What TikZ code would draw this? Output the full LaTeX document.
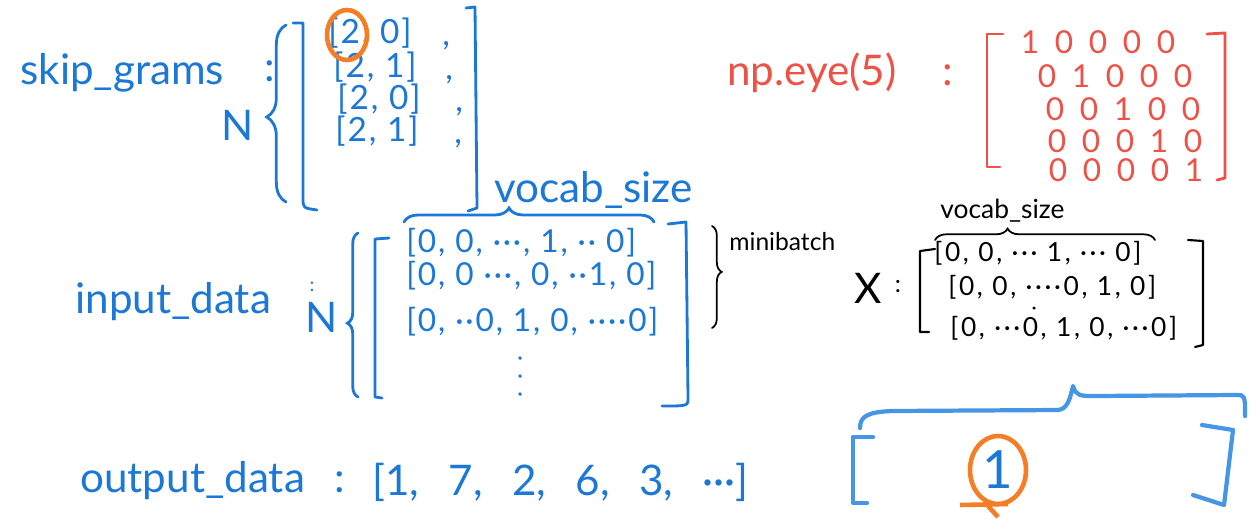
\documentclass[tikz,border=0pt]{standalone}
\usepackage{fontspec}
\setmainfont{Lato}
\usetikzlibrary{decorations.pathreplacing,calc}
\definecolor{kek}{RGB}{28,120,215}
\definecolor{vkek}{RGB}{70,150,230}
\definecolor{piros}{RGB}{238,82,70}
\definecolor{narancs}{RGB}{245,125,35}
\tikzset{
  nagy/.style={inner sep=0pt,font=\fontsize{24}{28}\selectfont},
  kozep/.style={inner sep=0pt,anchor=west,text height=0.72em,text depth=0.1em,
                font=\fontsize{19}{22}\selectfont\addfontfeature{LetterSpace=6}},
  sor/.style={inner sep=0pt,anchor=west,font=\fontsize{18}{20}\selectfont\addfontfeature{LetterSpace=6}},
  xsor/.style={inner sep=0pt,anchor=west,font=\fontsize{15}{18}\selectfont\addfontfeature{LetterSpace=10}},
  kicsi/.style={inner sep=0pt,font=\fontsize{14}{17}\selectfont},
  szam/.style={piros,inner sep=0pt,text height=0.7em,text depth=0pt,font=\fontsize{18}{20}\selectfont},
  zarojel/.style={line width=1.6pt,line cap=round,line join=round},
  kapcsos/.style={decorate,decoration={brace,amplitude=#1},line width=1.6pt,line cap=round},
  kapcsos/.default=7pt,
  karika/.style={narancs,line width=2.6pt},
  pottyo/.style={circle,fill,inner sep=0.8pt},
}

\begin{document}
\begin{tikzpicture}[x=0.02cm,y=-0.02cm]
  \useasboundingbox (0,0) rectangle (1260,531);
  \fill[white] (0,0) rectangle (1260,531);
  % skip_grams
  \node[nagy,kek,anchor=base west] (skip) at (20,84) {skip\_grams};
  \node[nagy,kek] (skipk) at (270,71) {:};
  \node[nagy,kek,anchor=base] (skipn) at (238,140) {N};
  \draw[kapcsos=11pt,kek,decoration={aspect=0.48}] (286,202) -- (286,25);
  \draw[zarojel,kek] (293,23) -- (303,23) -- (303,198) .. controls (303,208) .. (317,210);
  \draw[zarojel,kek] (466,8) -- (475,7) -- (477,208) -- (468,211);
  \node[kozep,kek] (sg1) at (328,38) {[2, 0]};
  \node[kozep,kek] (sg2) at (333,72) {[2, 1]};
  \node[kozep,kek] (sg3) at (337,104) {[2, 0]};
  \node[kozep,kek] (sg4) at (335,136) {[2, 1]};
  \foreach \y/\x in {38/442,72/445,104/455,136/454}
    \node[kozep,kek] (vesszo\y) at (\x,\y+2) {,};
  \draw[karika] (347,35) ellipse [x radius=0.4cm,y radius=0.5cm];
  % np.eye
  \node[nagy,piros,anchor=base west] (eye) at (727,85) {np.eye(5)};
  \node[nagy,piros] (eyek) at (948,75) {:};
  \draw[zarojel,piros] (1003,34) -- (987,34) -- (987,167) -- (1000,167);
  \draw[zarojel,piros] (1207,34) -- (1225,33) -- (1225,178) -- (1217,180);
  \foreach \r/\bx/\yy in {1/1030/47,2/1047/81,3/1055/114,4/1057/146,5/1058/175}
    \foreach \c in {1,...,5}
      \node[szam] (e\r\c) at (\bx+\c*34-34,\yy) {\ifnum\r=\c\relax 1\else 0\fi};
  % input_data
  \node[nagy,kek,anchor=base west] (inp) at (75,313) {input\_data};
  \node[kek,inner sep=0pt,font=\fontsize{11}{12}\selectfont] (inpk) at (312,287) {:};
  \node[nagy,kek,anchor=base] (inpn) at (322,332) {N};
  \draw[kapcsos=6pt,kek,decoration={aspect=0.45}] (358,397) -- (358,233);
  \draw[zarojel,kek] (389,238) -- (375,239) -- (375,397) -- (382,398);
  \draw[zarojel,kek] (668,224) -- (686,222) -- (688,398) .. controls (688,406) .. (662,406);
  \node[nagy,kek,anchor=base west] (vsz) at (494,202) {vocab\_size};
  \draw[kapcsos=8pt,kek,decoration={aspect=0.42}] (404,222) -- (654,222);
  \node[sor,kek] (in1) at (406,243) {[0, 0, ···, 1, ·· 0]};
  \node[sor,kek] (in2) at (406,276) {[0, 0 ···, 0, ··1, 0]};
  \node[sor,kek] (in3) at (406,322) {[0, ··0, 1, 0, ····0]};
  \foreach \y in {358,376,394}
    \node[pottyo,kek] (pont\y) at (520,\y) {};
  \draw[kapcsos=5.5pt,line width=1pt,decoration={aspect=0.45}] (712,226) -- (712,328);
  \node[kicsi,anchor=base west] (mb) at (729,250) {minibatch};
  % X
  \node[nagy,anchor=base] (xx) at (868,303) {X};
  \node[kicsi] (xk) at (898,287) {:};
  \node[inner sep=0pt,anchor=base west,font=\fontsize{15}{18}\selectfont] (xv) at (940,218) {vocab\_size};
  \draw[kapcsos=6.5pt,line width=1pt,decoration={aspect=0.33}] (935,240) -- (1155,240);
  \draw[zarojel,line width=1.2pt] (935,249) -- (920,251) -- (920,332) -- (929,332);
  \draw[zarojel,line width=1.2pt] (1188,240) -- (1203,241) -- (1203,345) -- (1195,347);
  \node[xsor] (x1) at (934,253) {[0, 0, ··· 1, ··· 0]};
  \node[xsor] (x2) at (948,287) {[0, 0, ····0, 1, 0]};
  \node[xsor] (x3) at (950,328) {[0, ···0, 1, 0, ···0]};
  \node[pottyo,inner sep=0.7pt] (xp) at (1034,308) {};
  % output_data
  \node[nagy,kek,anchor=base west] (outp) at (80,492) {output\_data};
  \node[nagy,kek] (outk) at (340,482) {:};
  \node[nagy,kek,anchor=base west] (outl) at (372,495) {[1,\hspace{0.7em}7,\hspace{0.7em}2,\hspace{0.7em}6,\hspace{0.7em}3,\hspace{0.7em}···]};
  % egy elem
  \draw[zarojel,vkek,line width=2.4pt] (860,428) .. controls (860,416) and (868,412) .. (892,411)
    -- (1058,410) .. controls (1068,409) and (1070,398) .. (1073,386)
    .. controls (1076,396) and (1080,396) .. (1095,396) -- (1236,395)
    .. controls (1245,395) .. (1245,416);
  \draw[zarojel,vkek,line width=2.4pt] (873,437) -- (853,437) -- (853,503) -- (867,503);
  \draw[zarojel,vkek,line width=2.4pt] (1202,425) -- (1233,430) -- (1224,505) -- (1193,495);
  \node[kek,inner sep=0pt,font=\fontsize{30}{32}\selectfont] (egy) at (998,470) {1};
  \draw[karika] (egy.center) ellipse [x radius=0.56cm,y radius=0.68cm];
  \draw[karika] (960,505) -- (1008,504) (988,506) -- (998,517);
\end{tikzpicture}
\end{document}
